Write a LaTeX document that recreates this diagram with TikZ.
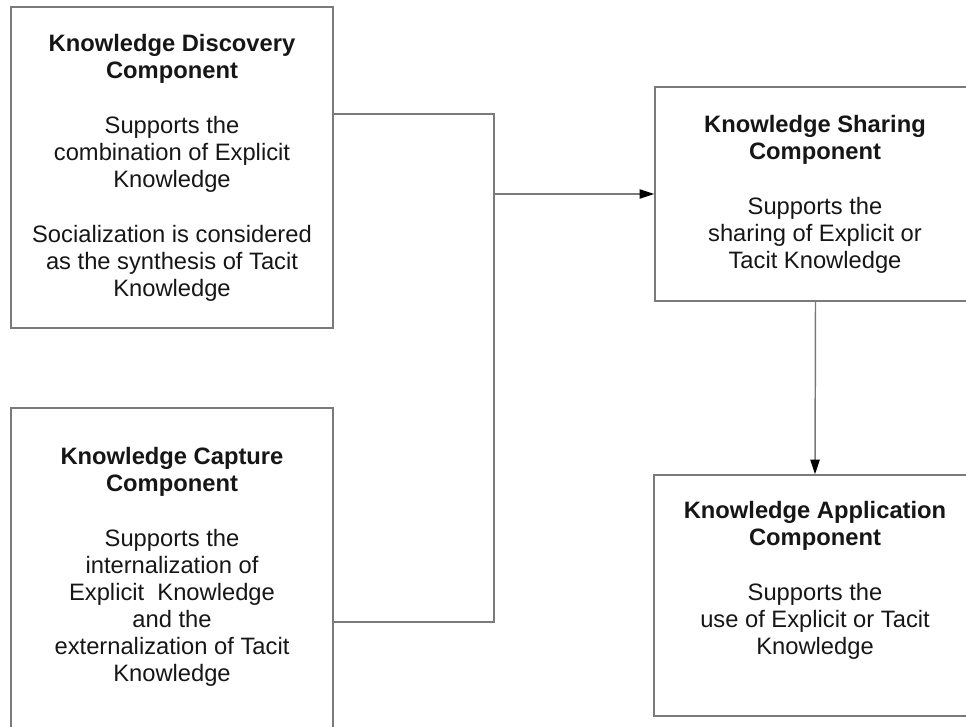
\documentclass[tikz,border=0pt]{standalone}
\usepackage{fontspec}
\setmainfont{Liberation Sans}
\usetikzlibrary{arrows.meta}
\definecolor{edgegray}{HTML}{7A7A7A}
\definecolor{inkblack}{HTML}{161616}
\tikzset{
  compbox/.style={draw=edgegray, line width=1.1pt, fill=none, inner sep=0pt,
    minimum width=#1*0.75pt},
  comptext/.style={align=center, text=inkblack, inner sep=0pt,
    font=\fontsize{17.8}{20.25}\selectfont},
  link/.style={draw=edgegray, line width=1.1pt},
  flow/.style={link, -{Triangle[length=11pt, width=7pt, color=black]}},
}
\begin{document}
\begin{tikzpicture}[x=0.75pt, y=-0.75pt]
  \path[use as bounding box] (0,0) rectangle (966,727);
  \clip (0,0) rectangle (966,727);

  % component boxes
  \node[compbox=322, minimum height=321*0.75pt] (disc) at (172,167.5) {};
  \node[compbox=322, minimum height=324*0.75pt] (capt) at (172,570) {};
  \node[compbox=321, minimum height=214*0.75pt] (share) at (815.5,194) {};
  \node[compbox=322, minimum height=241*0.75pt] (appl) at (815,595.5) {};

  % box texts
  \node[comptext] (discT) at (172,168) {\textbf{Knowledge Discovery}\\\textbf{Component}\\[21pt]
    Supports the\\combination of Explicit\\Knowledge\\[21pt]
    Socialization is considered\\as the synthesis of Tacit\\Knowledge};
  \node[comptext] (captT) at (172,567) {\textbf{Knowledge Capture}\\\textbf{Component}\\[21pt]
    Supports the\\internalization of\\Explicit\ \ Knowledge\\and the\\externalization of Tacit\\Knowledge};
  \node[comptext] (shareT) at (815,194) {\textbf{Knowledge Sharing}\\\textbf{Component}\\[21pt]
    Supports the\\sharing of Explicit or\\Tacit Knowledge};
  \node[comptext] (applT) at (815,580) {\textbf{Knowledge Application}\\\textbf{Component}\\[21pt]
    Supports the\\use of Explicit or Tacit\\Knowledge};

  % junction of the two left-hand components
  \coordinate (jtop) at (494,114);
  \coordinate (jbot) at (494,622);
  \coordinate (jmid) at (494,194);
  \draw[link] (disc.east |- jtop) -- (jtop) -- (jbot) -- (capt.east |- jbot);
  \draw[flow] (jmid) -- (share.west);
  \draw[flow] (share.south) -- (appl.north);
\end{tikzpicture}
\end{document}
